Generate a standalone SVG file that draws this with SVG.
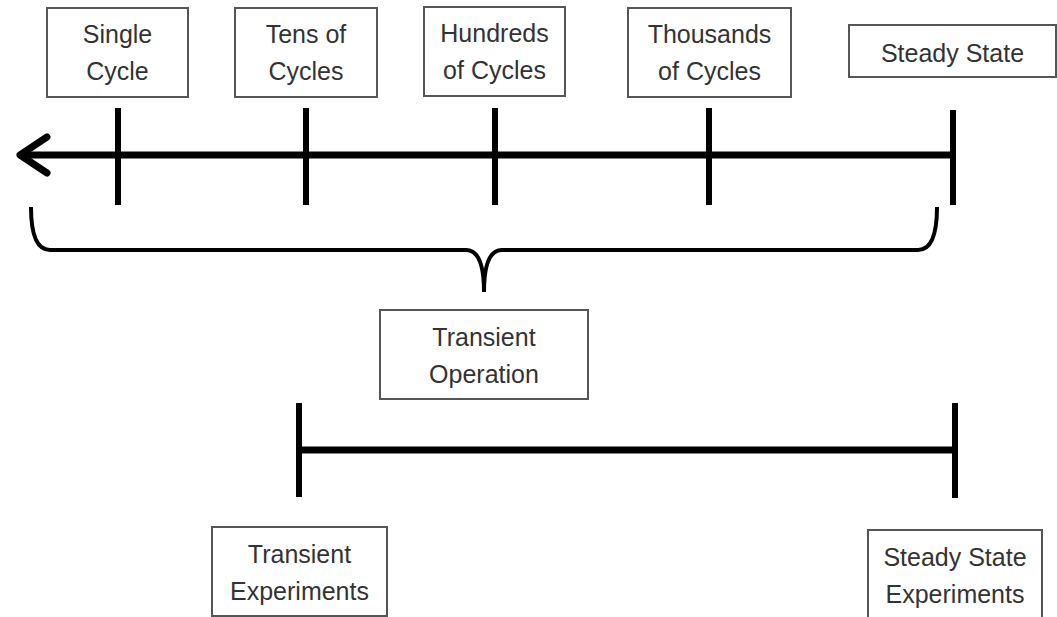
<svg xmlns="http://www.w3.org/2000/svg" width="1057" height="617" viewBox="0 0 1057 617">
<style>
.box{fill:#fff;stroke:#555;stroke-width:2}
.t{font-family:"Liberation Sans",Arial,sans-serif;font-size:25px;fill:#333;text-anchor:middle}
.ax{stroke:#000;stroke-width:7;fill:none}
.tk{stroke:#000;stroke-width:6;fill:none}
</style>
<rect width="1057" height="617" fill="#fff"/>
<g id="connectors">
<line class="ax" x1="20" y1="155" x2="953" y2="155"/>
<polyline class="ax" points="47,137 20,155 47,173" stroke-linecap="round" stroke-linejoin="round"/>
<line class="tk" x1="118" y1="108" x2="118" y2="205"/>
<line class="tk" x1="306" y1="108" x2="306" y2="205"/>
<line class="tk" x1="495" y1="108" x2="495" y2="205"/>
<line class="tk" x1="709" y1="108" x2="709" y2="205"/>
<line class="tk" x1="953" y1="110" x2="953" y2="205"/>
<path d="M31,207 Q31,250 50,250 L466,250 Q484,250 484,292 Q484,250 502,250 L918,250 Q937,250 937,207" fill="none" stroke="#000" stroke-width="4"/>
<line class="ax" x1="299" y1="450" x2="955" y2="450"/>
<line class="tk" x1="299" y1="403" x2="299" y2="497"/>
<line class="tk" x1="955" y1="403" x2="955" y2="498"/>
</g>
<g id="single-cycle"><rect class="box" x="47" y="8" width="141" height="89"/><text class="t" x="117.5" y="43">Single</text><text class="t" x="117.5" y="80">Cycle</text></g>
<g id="tens"><rect class="box" x="235" y="8" width="142" height="89"/><text class="t" x="306" y="43">Tens of</text><text class="t" x="306" y="80">Cycles</text></g>
<g id="hundreds"><rect class="box" x="424" y="7" width="141" height="89"/><text class="t" x="494.5" y="42">Hundreds</text><text class="t" x="494.5" y="79">of Cycles</text></g>
<g id="thousands"><rect class="box" x="628" y="8" width="163" height="89"/><text class="t" x="709.5" y="43">Thousands</text><text class="t" x="709.5" y="80">of Cycles</text></g>
<g id="steady-state"><rect class="box" x="849" y="25" width="207" height="52"/><text class="t" x="952.5" y="62">Steady State</text></g>
<g id="transient-operation"><rect class="box" x="380" y="310" width="208" height="89"/><text class="t" x="484" y="346">Transient</text><text class="t" x="484" y="383">Operation</text></g>
<g id="transient-experiments"><rect class="box" x="212" y="527" width="175" height="89"/><text class="t" x="299.5" y="563">Transient</text><text class="t" x="299.5" y="600">Experiments</text></g>
<g id="steady-state-experiments"><rect class="box" x="868" y="530" width="174" height="92"/><text class="t" x="955" y="566">Steady State</text><text class="t" x="955" y="603">Experiments</text></g>
</svg>
